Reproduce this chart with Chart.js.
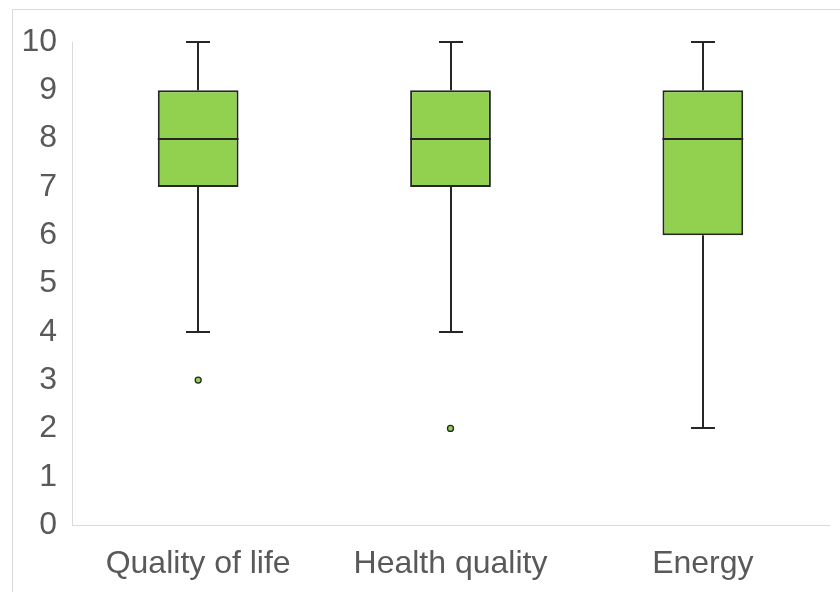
<!DOCTYPE html>
<html>
<head>
<meta charset="utf-8">
<script src="https://cdn.jsdelivr.net/npm/chart.js@4/dist/chart.umd.min.js"></script>
<style>
  html, body { margin: 0; padding: 0; background: #ffffff; }
  #wrap { position: relative; width: 840px; height: 592px; }
</style>
</head>
<body>
<div id="wrap"><canvas id="chart" width="840" height="592"></canvas></div>
<script>
// Five-number summaries per category, plus outliers
const categories = ['Quality of life', 'Health quality', 'Energy'];
const minimums   = [4, 4, 2];
const lowerQuart = [7, 7, 6];
const medians    = [8, 8, 8];
const upperQuart = [9, 9, 9];
const maximums   = [10, 10, 10];
const outliers   = [3, 2, null];
const yTicks     = [0, 1, 2, 3, 4, 5, 6, 7, 8, 9, 10];

const BOX_FILL = '#92D050';
const INK = '#262626';
const AXIS = '#d9d9d9';
const TEXT = '#595959';
const FONT = { family: '"Liberation Sans", Arial, sans-serif', size: 32 };

// Whiskers and caps behind the boxes, median lines on top of them
const whiskerPlugin = {
  id: 'whiskers',
  beforeDatasetsDraw(chart) {
    const { ctx, scales: { x, y } } = chart;
    const cap = 12;
    ctx.save();
    ctx.strokeStyle = INK;
    ctx.lineWidth = 2;
    categories.forEach((c, i) => {
      const cx = Math.round(x.getPixelForValue(i));
      const yMin = Math.round(y.getPixelForValue(minimums[i]));
      const yMax = Math.round(y.getPixelForValue(maximums[i]));
      const yQ1 = y.getPixelForValue(lowerQuart[i]);
      const yQ3 = y.getPixelForValue(upperQuart[i]);
      ctx.beginPath();
      ctx.moveTo(cx, yQ3); ctx.lineTo(cx, yMax);
      ctx.moveTo(cx - cap, yMax); ctx.lineTo(cx + cap, yMax);
      ctx.moveTo(cx, yQ1); ctx.lineTo(cx, yMin);
      ctx.moveTo(cx - cap, yMin); ctx.lineTo(cx + cap, yMin);
      ctx.stroke();
    });
    ctx.restore();
  },
  afterDatasetDraw(chart, args) {
    if (args.index !== 0) return;
    const { ctx, scales: { y } } = chart;
    const meta = chart.getDatasetMeta(0);
    ctx.save();
    ctx.strokeStyle = INK;
    ctx.lineWidth = 2;
    meta.data.forEach((bar, i) => {
      const { x, width } = bar.getProps(['x', 'width'], true);
      const ym = Math.round(y.getPixelForValue(medians[i]));
      ctx.beginPath();
      ctx.moveTo(x - width / 2, ym);
      ctx.lineTo(x + width / 2, ym);
      ctx.stroke();
    });
    ctx.restore();
  }
};

// Light outer frame of the chart object
const framePlugin = {
  id: 'frame',
  beforeDraw(chart) {
    const { ctx, width, height } = chart;
    ctx.save();
    ctx.strokeStyle = AXIS;
    ctx.lineWidth = 1;
    ctx.beginPath();
    ctx.moveTo(12.5, height);
    ctx.lineTo(12.5, 9.5);
    ctx.lineTo(width, 9.5);
    ctx.stroke();
    ctx.restore();
  }
};

new Chart(document.getElementById('chart'), {
  data: {
    labels: categories,
    datasets: [
      {
        type: 'bar',
        label: 'Interquartile range',
        data: lowerQuart.map((q, i) => [q, upperQuart[i]]),
        backgroundColor: BOX_FILL,
        borderColor: INK,
        borderWidth: 2,
        borderSkipped: false,
        grouped: false,
        barPercentage: 0.32,
        categoryPercentage: 1.0
      },
      {
        type: 'line',
        label: 'Outliers',
        data: outliers,
        showLine: false,
        pointRadius: 3,
        pointBackgroundColor: BOX_FILL,
        pointBorderColor: INK,
        pointBorderWidth: 1.3
      }
    ]
  },
  options: {
    responsive: false,
    animation: false,
    layout: { padding: { top: 42, right: 11, left: 0, bottom: 0 } },
    plugins: { legend: { display: false }, tooltip: { enabled: false } },
    scales: {
      x: {
        grid: { display: false, drawTicks: false },
        border: { display: true, color: AXIS, width: 1 },
        ticks: { color: TEXT, font: FONT, padding: 20, maxRotation: 0 },
        afterFit(s) { s.height = 67; }
      },
      y: {
        min: 0,
        max: 10,
        afterBuildTicks(s) { s.ticks = yTicks.map(v => ({ value: v })); },
        grid: { display: false, drawTicks: false },
        border: { display: true, color: AXIS, width: 1 },
        ticks: { color: TEXT, font: FONT, padding: 15 },
        afterFit(s) { s.width = 72; }
      }
    }
  },
  plugins: [framePlugin, whiskerPlugin]
});
</script>
</body>
</html>
